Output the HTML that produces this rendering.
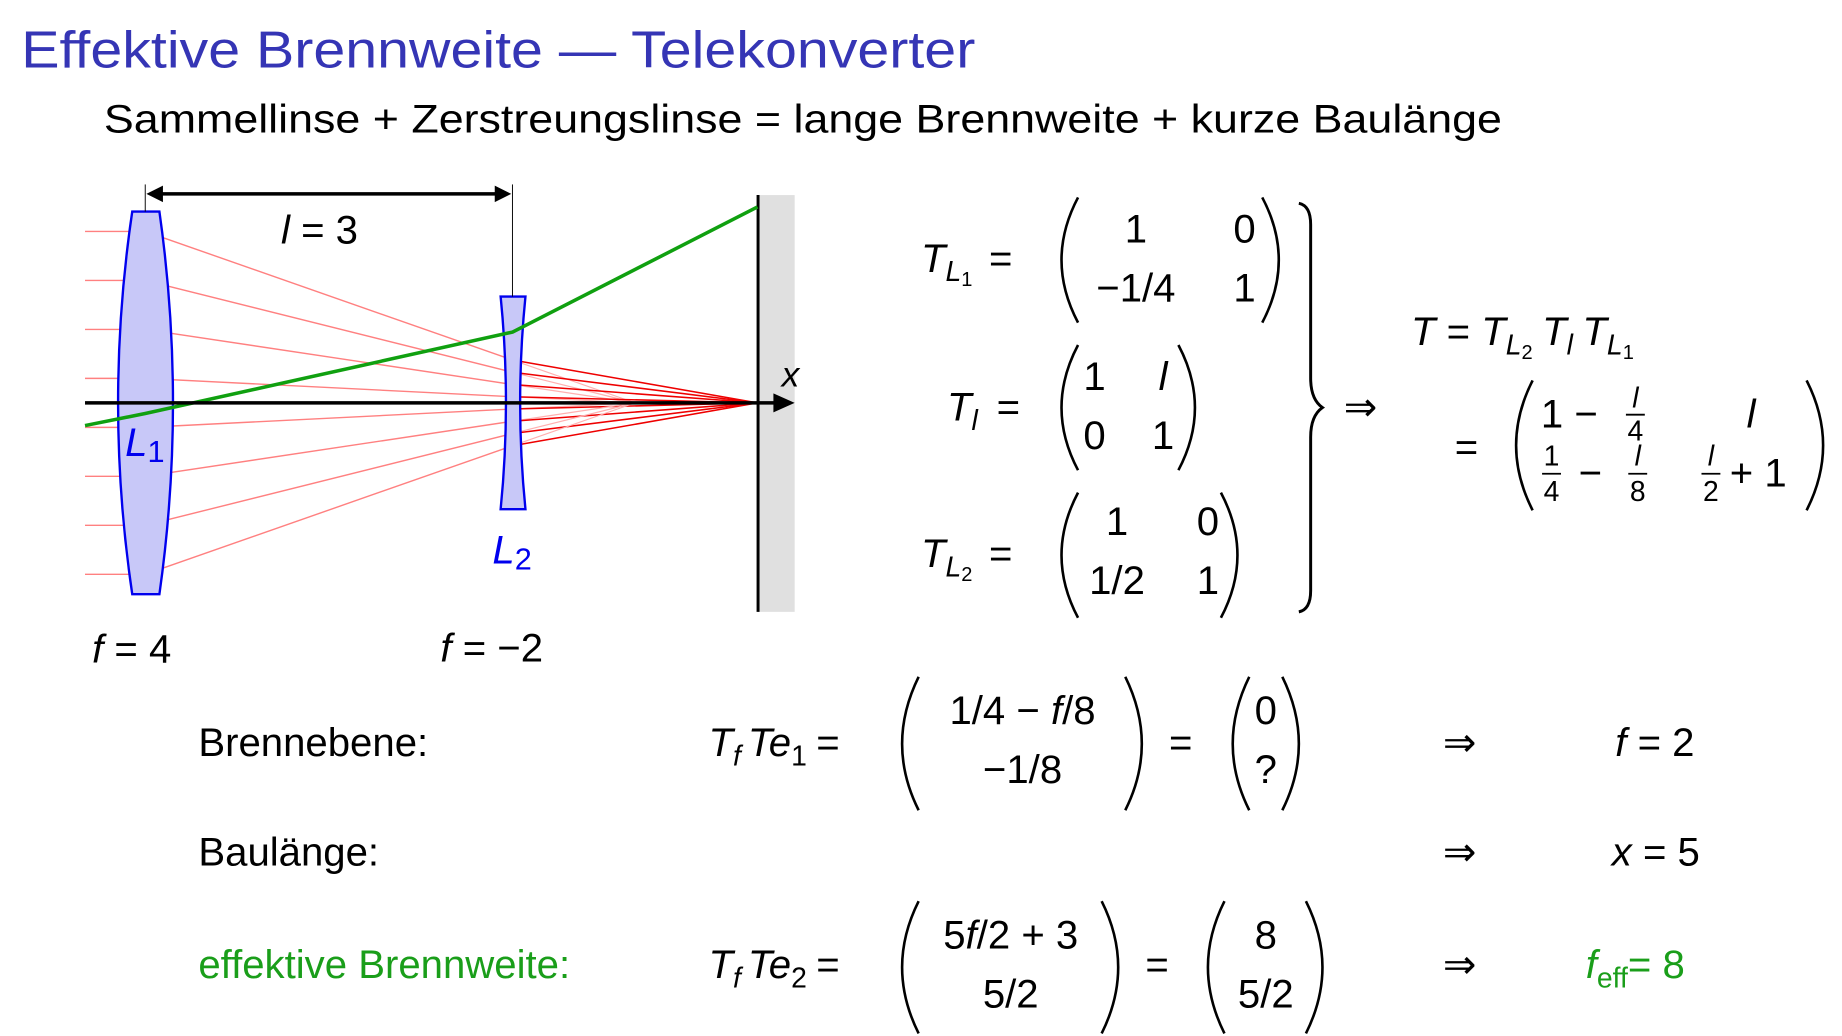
<!DOCTYPE html>
<html><head><meta charset="utf-8"><style>
html,body{margin:0;padding:0;background:#fff;}
svg{display:block;}
text{font-family:"Liberation Sans",sans-serif;fill:#000;}
.it{font-style:italic;}
</style></head><body>
<svg id="s" width="1842" height="1036" viewBox="0 0 1560 877" xmlns="http://www.w3.org/2000/svg">
<text x="18" y="57" font-size="44" textLength="808" lengthAdjust="spacingAndGlyphs" style="fill:#3535b5">Effektive Brennweite — Telekonverter</text>
<text x="88" y="112" font-size="34" textLength="1184" lengthAdjust="spacingAndGlyphs">Sammellinse + Zerstreungslinse = lange Brennweite + kurze Baulänge</text>

<g id="diagram">
<rect x="642" y="165" width="31" height="353" fill="#e0e0e0"/>
<line x1="642" y1="165" x2="642" y2="518" stroke="#000" stroke-width="2.5"/>
<g id="rays"></g>
<path d="M112,179 L135,179 Q158,341 135,503 L112,503 Q88,341 112,179 Z" fill="#c8c8f8" stroke="#0000ee" stroke-width="2"/>
<path d="M424,251 L445,251 Q436,341 445,431 L424,431 Q433,341 424,251 Z" fill="#c8c8f8" stroke="#0000ee" stroke-width="2"/>
<g id="green"></g>
<line x1="72" y1="341" x2="660" y2="341" stroke="#000" stroke-width="3"/>
<path d="M673,341 L655,333 L655,349 Z" fill="#000"/>
<line x1="123" y1="156" x2="123" y2="179" stroke="#000" stroke-width="0.8"/>
<line x1="434" y1="156" x2="434" y2="251" stroke="#000" stroke-width="0.8"/>
<line x1="132" y1="164" x2="425" y2="164" stroke="#000" stroke-width="3"/>
<path d="M124,164 L138,157 L138,171 Z" fill="#000"/>
<path d="M433,164 L419,157 L419,171 Z" fill="#000"/>
<text x="238" y="206" font-size="34"><tspan class="it">l</tspan> = 3</text>
<text x="662" y="327" font-size="30" class="it">x</text>
<text x="106" y="386" font-size="34" style="fill:#0000ee"><tspan class="it" style="fill:#0000ee">L</tspan><tspan font-size="26" dy="5" style="fill:#0000ee">1</tspan></text>
<text x="417" y="477" font-size="34" style="fill:#0000ee"><tspan class="it" style="fill:#0000ee">L</tspan><tspan font-size="26" dy="5" style="fill:#0000ee">2</tspan></text>
<text x="78" y="561" font-size="34"><tspan class="it">f</tspan> = 4</text>
<text x="373" y="560" font-size="34"><tspan class="it">f</tspan> = −2</text>
</g>

<g font-size="34">
<text x="780" y="230"><tspan class="it">T</tspan><tspan class="it" font-size="24" dy="8">L</tspan><tspan font-size="17" dy="4">1</tspan><tspan dy="-12" dx="14">=</tspan></text>
<path d="M913,167 Q885,220 913,273" fill="none" stroke="#000" stroke-width="2.2"/>
<text x="962" y="205" text-anchor="middle">1</text><text x="1054" y="205" text-anchor="middle">0</text>
<text x="962" y="255" text-anchor="middle">−1/4</text><text x="1054" y="255" text-anchor="middle">1</text>
<path d="M1069,167 Q1097,220 1069,273" fill="none" stroke="#000" stroke-width="2.2"/>

<text x="802" y="356"><tspan class="it">T</tspan><tspan class="it" font-size="24" dy="8">l</tspan><tspan dy="-8" dx="16">=</tspan></text>
<path d="M913,292 Q885,345 913,398" fill="none" stroke="#000" stroke-width="2.2"/>
<text x="927" y="330" text-anchor="middle">1</text><text x="985" y="330" text-anchor="middle" class="it">l</text>
<text x="927" y="380" text-anchor="middle">0</text><text x="985" y="380" text-anchor="middle">1</text>
<path d="M998,292 Q1026,345 998,398" fill="none" stroke="#000" stroke-width="2.2"/>

<text x="780" y="480"><tspan class="it">T</tspan><tspan class="it" font-size="24" dy="8">L</tspan><tspan font-size="17" dy="4">2</tspan><tspan dy="-12" dx="14">=</tspan></text>
<path d="M913,417 Q885,470 913,523" fill="none" stroke="#000" stroke-width="2.2"/>
<text x="946" y="453" text-anchor="middle">1</text><text x="1023" y="453" text-anchor="middle">0</text>
<text x="946" y="503" text-anchor="middle">1/2</text><text x="1023" y="503" text-anchor="middle">1</text>
<path d="M1034,417 Q1062,470 1034,523" fill="none" stroke="#000" stroke-width="2.2"/>

<path d="M1100,172 Q1110,174 1110,190 L1110,320 Q1110,338 1120,345 Q1110,352 1110,370 L1110,500 Q1110,516 1100,518" fill="none" stroke="#000" stroke-width="2.5"/>
<text x="1138" y="356">⇒</text>

<text x="1195" y="292"><tspan class="it">T</tspan> = <tspan class="it">T</tspan><tspan class="it" font-size="24" dy="8">L</tspan><tspan font-size="17" dy="4">2</tspan><tspan class="it" dy="-12" dx="8">T</tspan><tspan class="it" font-size="24" dy="8">l</tspan><tspan class="it" dy="-8" dx="8">T</tspan><tspan class="it" font-size="24" dy="8">L</tspan><tspan font-size="17" dy="4">1</tspan></text>
<text x="1232" y="390">=</text>
<path d="M1298,322 Q1270,377 1298,432" fill="none" stroke="#000" stroke-width="2.2"/>
<text x="1305" y="362">1 −</text>
<text x="1385" y="345" text-anchor="middle" font-size="24" class="it">l</text><line x1="1377" y1="351" x2="1393" y2="351" stroke="#000" stroke-width="1.5"/><text x="1385" y="373" text-anchor="middle" font-size="24">4</text>
<text x="1483" y="362" text-anchor="middle" class="it">l</text>
<text x="1314" y="394" text-anchor="middle" font-size="24">1</text><line x1="1306" y1="401" x2="1322" y2="401" stroke="#000" stroke-width="1.5"/><text x="1314" y="424" text-anchor="middle" font-size="24">4</text>
<text x="1337" y="412">−</text>
<text x="1387" y="394" text-anchor="middle" font-size="24" class="it">l</text><line x1="1379" y1="401" x2="1395" y2="401" stroke="#000" stroke-width="1.5"/><text x="1387" y="424" text-anchor="middle" font-size="24">8</text>
<text x="1449" y="394" text-anchor="middle" font-size="24" class="it">l</text><line x1="1441" y1="401" x2="1457" y2="401" stroke="#000" stroke-width="1.5"/><text x="1449" y="424" text-anchor="middle" font-size="24">2</text>
<text x="1465" y="412">+ 1</text>
<path d="M1530,322 Q1558,377 1530,432" fill="none" stroke="#000" stroke-width="2.2"/>
</g>

<g font-size="34">
<text x="168" y="640">Brennebene:</text>
<text x="600" y="640"><tspan class="it">T</tspan><tspan class="it" font-size="24" dy="8">f</tspan><tspan class="it" dy="-8" dx="6">Te</tspan><tspan font-size="24" dy="8">1</tspan><tspan dy="-8" dx="8">=</tspan></text>
<path d="M778,573 Q750,630 778,686" fill="none" stroke="#000" stroke-width="2.2"/>
<text x="866" y="613" text-anchor="middle">1/4 − <tspan class="it">f</tspan>/8</text>
<text x="866" y="663" text-anchor="middle">−1/8</text>
<path d="M953,573 Q981,630 953,686" fill="none" stroke="#000" stroke-width="2.2"/>
<text x="990" y="640">=</text>
<path d="M1058,573 Q1030,630 1058,686" fill="none" stroke="#000" stroke-width="2.2"/>
<text x="1072" y="613" text-anchor="middle">0</text><text x="1072" y="663" text-anchor="middle">?</text>
<path d="M1086,573 Q1114,630 1086,686" fill="none" stroke="#000" stroke-width="2.2"/>
<text x="1222" y="640">⇒</text>
<text x="1368" y="640"><tspan class="it">f</tspan> = 2</text>

<text x="168" y="733">Baulänge:</text>
<text x="1222" y="733">⇒</text>
<text x="1365" y="733"><tspan class="it">x</tspan> = 5</text>

<text x="168" y="828" style="fill:#1a9e1a">effektive Brennweite:</text>
<text x="600" y="828"><tspan class="it">T</tspan><tspan class="it" font-size="24" dy="8">f</tspan><tspan class="it" dy="-8" dx="6">Te</tspan><tspan font-size="24" dy="8">2</tspan><tspan dy="-8" dx="8">=</tspan></text>
<path d="M778,763 Q750,819 778,875" fill="none" stroke="#000" stroke-width="2.2"/>
<text x="856" y="803" text-anchor="middle">5<tspan class="it">f</tspan>/2 + 3</text>
<text x="856" y="853" text-anchor="middle">5/2</text>
<path d="M933,763 Q961,819 933,875" fill="none" stroke="#000" stroke-width="2.2"/>
<text x="970" y="828">=</text>
<path d="M1037,763 Q1009,819 1037,875" fill="none" stroke="#000" stroke-width="2.2"/>
<text x="1072" y="803" text-anchor="middle">8</text><text x="1072" y="853" text-anchor="middle">5/2</text>
<path d="M1106,763 Q1134,819 1106,875" fill="none" stroke="#000" stroke-width="2.2"/>
<text x="1222" y="828">⇒</text>
<text x="1343" y="828" style="fill:#1a9e1a"><tspan class="it" style="fill:#1a9e1a">f</tspan><tspan font-size="24" dy="8" style="fill:#1a9e1a">eff</tspan><tspan dy="-8" style="fill:#1a9e1a">= 8</tspan></text>
</g>
</svg>
<script>
const rayHeights = [1.4, 1.0, 0.6, 0.2, -0.2, -0.6, -1.0, -1.4];
const lensF = [4, -2];
const lensGap = [3];
const screenGap = [2];
const greenAngle = [0.2];

const unit = 103.7, x0 = 123, y0 = 341, xStart = 72;
const X = u => x0 + u * unit;
const Y = h => y0 - h * unit;
const NS = 'http://www.w3.org/2000/svg';
function line(g, a, b, c, d, col, w) {
  const l = document.createElementNS(NS, 'line');
  l.setAttribute('x1', a); l.setAttribute('y1', b); l.setAttribute('x2', c); l.setAttribute('y2', d);
  l.setAttribute('stroke', col); l.setAttribute('stroke-width', w);
  g.appendChild(l); return l;
}
const rg = document.getElementById('rays');
const uStart = (xStart - x0) / unit;
const f1 = lensF[0], f2 = lensF[1], L = lensGap[0], D = screenGap[0];
rayHeights.forEach(h => {
  const s1 = -h / f1;
  const h2 = h + L * s1;
  const s2 = s1 - h2 / f2;
  const h3 = h2 + D * s2;
  let el = line(rg, X(uStart), Y(h), X(0), Y(h), '#ff8080', 1.2);
  
  
  el = line(rg, X(0), Y(h), X(L), Y(h2), '#ff8080', 1.2);
  
  
  el = line(rg, X(L), Y(h2), X(f1), Y(0), '#ffb0b0', 1);
  
  
  el = line(rg, X(L), Y(h2), X(L + D), Y(h3), '#ee0000', 1.3);
  
  
});
const gg = document.getElementById('green');
const s0 = greenAngle[0];
const h1 = -0.087;
const hs = h1 + uStart * s0;
const g1 = s0 - h1 / f1;
const gh2 = h1 + L * g1;
const g2 = g1 - gh2 / f2;
const gh3 = gh2 + D * g2;
const pl = document.createElementNS(NS, 'polyline');
pl.setAttribute('points', `${X(uStart)},${Y(hs)} ${X(0)},${Y(h1)} ${X(L)},${Y(gh2)} ${X(L + D)},${Y(gh3)}`);
pl.setAttribute('fill', 'none'); pl.setAttribute('stroke', '#10a010'); pl.setAttribute('stroke-width', '3');


gg.appendChild(pl);
</script>
</body></html>
